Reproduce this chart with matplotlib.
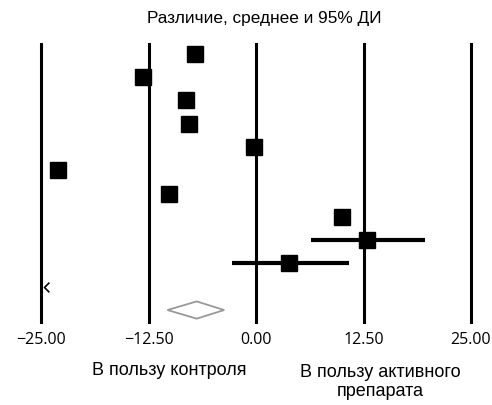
import matplotlib
matplotlib.use("Agg")
import matplotlib.pyplot as plt
from matplotlib.path import Path

# study estimates (mean difference) and 95% CI, top to bottom
means = [-7.1, -13.1, -8.1, -7.8, -0.2, -23.0, -10.1, 10.0, 12.9, 3.8]
ci_low = [None, None, None, None, None, None, None, None, 6.4, -2.8]
ci_high = [None, None, None, None, None, None, None, None, 19.7, 10.8]

# off-scale study (arrow at left edge)
offscale_x = [-24.6]

# pooled estimate (diamond)
pooled_mean = -6.9
pooled_low = -10.3
pooled_high = -3.7

ticks = [-25.0, -12.5, 0.0, 12.5, 25.0]

fig = plt.figure(figsize=(4.92, 4.05), dpi=100)
ax = fig.add_axes([0.0659, 0.2, 0.909, 0.694])

for t in ticks:
    ax.axvline(t, color="black", linewidth=2.2, zorder=1)

rows = list(range(len(means)))
for i, (m, lo, hi) in enumerate(zip(means, ci_low, ci_high)):
    if lo is not None:
        ax.plot([lo, hi], [i, i], color="black", linewidth=3, solid_capstyle="butt", zorder=2)
ax.plot(means, rows, linestyle="none", marker="s", markersize=11.5,
        color="black", zorder=3)

# arrow for study out of range
arrow = Path([(1, 1), (0, 0), (1, -1)], [Path.MOVETO, Path.LINETO, Path.LINETO])
ax.plot(offscale_x, [len(means)], linestyle="none", marker=arrow, markersize=7,
        markeredgewidth=1.2, markeredgecolor="black", fillstyle="none", zorder=3)

# pooled diamond
yd = len(means) + 1
h = 0.37
ax.fill([pooled_low, pooled_mean, pooled_high, pooled_mean],
        [yd, yd - h, yd, yd + h], facecolor="white", edgecolor="#999999",
        linewidth=1.3, zorder=3)

ax.set_xlim(-26, 26)
ax.set_ylim(11.6, -0.47)
ax.set_xticks(ticks)
ax.set_xticklabels(["\u221225.00", "\u221212.50", "0.00", "12.50", "25.00"],
                   family="Open Sans", fontsize=11.5)
ax.tick_params(axis="x", length=0, pad=6)
ax.set_yticks([])
for s in ax.spines.values():
    s.set_visible(False)

fig.text(0.537, 0.955, "Различие, среднее и 95% ДИ", ha="center", va="center",
         family="Liberation Sans", fontsize=12.4)
fig.text(0.345, 0.085, "В пользу контроля", ha="center", va="center",
         family="Liberation Sans", fontsize=13)
fig.text(0.772, 0.057, "В пользу активного\nпрепарата", ha="center", va="center",
         family="Liberation Sans", fontsize=13, linespacing=1.2)

fig.savefig("out.png", dpi=100)
